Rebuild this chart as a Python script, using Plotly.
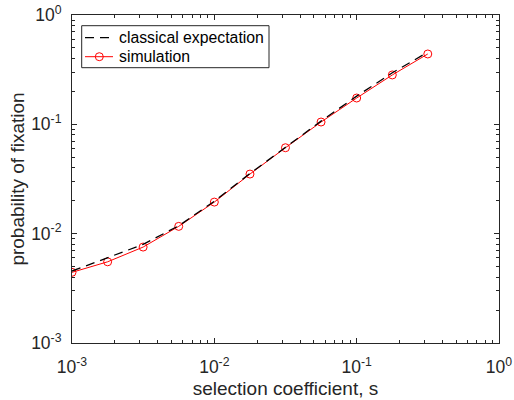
import plotly.graph_objects as go

s_values = [0.001, 0.00178, 0.00316, 0.00562, 0.01, 0.0178, 0.0316, 0.0562, 0.1, 0.178, 0.316]
classical = [0.00455, 0.00602, 0.00798, 0.0118, 0.0198, 0.0355, 0.0620, 0.107, 0.181, 0.296, 0.457]
simulation = [0.00443, 0.00553, 0.00754, 0.01166, 0.01945, 0.0351, 0.0611, 0.105, 0.174, 0.283, 0.440]
tick_vals = [0.001, 0.01, 0.1, 1]
tick_text = ["10<sup>-3</sup>", "10<sup>-2</sup>", "10<sup>-1</sup>", "10<sup>0</sup>"]
legend_labels = ["classical expectation", "simulation"]

TXT = "#262626"
FONT = "Liberation Sans, Arial, Helvetica, sans-serif"
RED = "#ff0000"
DASH = "9px,6px"

W, H = 514, 400
ML, MR, MT, MB = 72, 15, 15, 57
PW, PH = W - ML - MR, H - MT - MB

def px(x):
    return (x - ML) / PW

def py(y):
    return (H - MB - y) / PH

fig = go.Figure()
fig.add_trace(go.Scatter(
    x=s_values, y=simulation, mode="lines+markers", name=legend_labels[1],
    line=dict(color=RED, width=1),
    marker=dict(symbol="circle-open", size=8, color=RED, line=dict(width=1)),
))
fig.add_trace(go.Scatter(
    x=s_values, y=classical, mode="lines", name=legend_labels[0],
    line=dict(color="#000000", width=1.3, dash=DASH),
))

axis_common = dict(
    type="log", showgrid=False, zeroline=False, automargin=False,
    tickmode="array", tickvals=tick_vals, ticktext=tick_text,
    showline=True, linecolor=TXT, linewidth=1, mirror="allticks",
    ticks="inside", ticklen=5, tickcolor=TXT, tickwidth=1,
    tickfont=dict(family=FONT, size=17.5, color=TXT),
    minor=dict(ticks="inside", ticklen=3, tickcolor=TXT, dtick="D1", showgrid=False),
)

fig.update_xaxes(range=[-3, 0], ticklabelstandoff=8,
                 title=dict(text="selection coefficient, s", font=dict(family=FONT, size=19, color=TXT), standoff=5),
                 **axis_common)
fig.update_yaxes(range=[-3, 0], ticklabelstandoff=6,
                 title=dict(text="probability of fixation", font=dict(family=FONT, size=19, color=TXT), standoff=1),
                 **axis_common)

# legend (box, samples and labels)
shapes = [
    dict(type="rect", xref="paper", yref="paper", x0=px(81.7), x1=px(269), y0=py(67.7), y1=py(25.7),
         line=dict(color=TXT, width=1), fillcolor="white", layer="above"),
    dict(type="line", xref="paper", yref="paper", x0=px(85), x1=px(112), y0=py(37.7), y1=py(37.7),
         line=dict(color="#000000", width=1.3, dash=DASH), layer="above"),
    dict(type="line", xref="paper", yref="paper", x0=px(85), x1=px(113), y0=py(56.7), y1=py(56.7),
         line=dict(color=RED, width=1), layer="above"),
    dict(type="circle", xref="paper", yref="paper", x0=px(95.3), x1=px(103.3), y0=py(60.7), y1=py(52.7),
         line=dict(color=RED, width=1), layer="above"),
]
annotations = [
    dict(xref="paper", yref="paper", x=px(117), y=py(37.7), text=legend_labels[0], showarrow=False,
         xanchor="left", yanchor="middle", font=dict(family=FONT, size=15.8, color="#000000")),
    dict(xref="paper", yref="paper", x=px(117), y=py(56.7), text=legend_labels[1], showarrow=False,
         xanchor="left", yanchor="middle", font=dict(family=FONT, size=15.8, color="#000000")),
]

fig.update_layout(
    width=W, height=H,
    margin=dict(l=ML, r=MR, t=MT, b=MB, autoexpand=False),
    paper_bgcolor="white", plot_bgcolor="white",
    font=dict(family=FONT, color=TXT),
    showlegend=False,
    shapes=shapes,
    annotations=annotations,
)

fig.write_html("out.html")
